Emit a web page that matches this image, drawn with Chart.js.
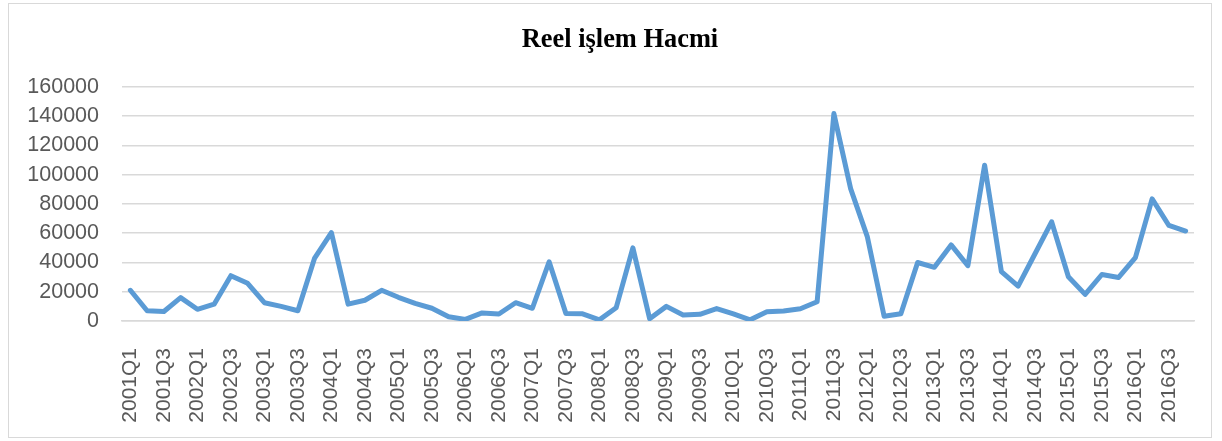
<!DOCTYPE html>
<html>
<head>
<meta charset="utf-8">
<script src="https://cdn.jsdelivr.net/npm/chart.js@4/dist/chart.umd.min.js"></script>
<style>
  html, body { margin: 0; padding: 0; background: #fff; }
  #wrap { position: relative; width: 1222px; height: 441px; }
  #frame { position: absolute; left: 8px; top: 3px; width: 1204px; height: 435px; border: 1px solid #d9d9d9; box-sizing: border-box; }
  canvas { position: absolute; left: 0; top: 0; }
</style>
</head>
<body>
<div id="wrap">
  <div id="frame"></div>
  <canvas id="c" width="1222" height="441"></canvas>
</div>
<script>
const chartTitle = "Reel işlem Hacmi";
const years = [2001,2002,2003,2004,2005,2006,2007,2008,2009,2010,2011,2012,2013,2014,2015,2016];
const quarters = ["Q1","Q2","Q3","Q4"];
const categories = [];
years.forEach(y => quarters.forEach(q => categories.push(y + q)));
const yTicks = [0,20000,40000,60000,80000,100000,120000,140000,160000];
const values = [
  21000, 7000, 6500, 16000, 8000, 11500, 31000, 25800,
  12500, 10000, 7000, 43000, 60500, 11500, 14200, 21000,
  16200, 12000, 8700, 2900, 1100, 5500, 4800, 12500,
  8700, 40500, 5200, 4900, 800, 9000, 50000, 1600,
  10000, 4100, 4600, 8500, 4800, 800, 6300, 6800,
  8400, 13200, 141800, 90500, 57500, 3300, 5000, 40000,
  36700, 52000, 37800, 106500, 33700, 23800, 45800, 67800,
  30300, 18200, 31800, 29800, 43300, 83500, 65300, 61500
];

const widenYLabelArea = {
  id: 'widenYLabelArea',
  afterLayout(chart) { chart.scales.y.left = 0; }
};

new Chart(document.getElementById('c'), {
  type: 'line',
  data: {
    labels: categories,
    datasets: [{
      data: values,
      borderColor: '#5B9BD5',
      borderWidth: 5,
      pointRadius: 0,
      tension: 0,
      fill: false,
      borderJoinStyle: 'round',
      borderCapStyle: 'round'
    }]
  },
  plugins: [widenYLabelArea],
  options: {
    responsive: false,
    animation: false,
    layout: { padding: { left: 46, right: 28, top: 0, bottom: 0 } },
    plugins: {
      legend: { display: false },
      tooltip: { enabled: false },
      title: {
        display: true,
        text: chartTitle,
        color: '#000',
        font: { family: 'Liberation Serif', size: 26.4, weight: 'bold' },
        padding: { top: 24.2, bottom: 31.1 }
      }
    },
    scales: {
      x: {
        offset: true,
        grid: { display: false, drawTicks: false },
        border: { display: true, color: '#d9d9d9', width: 1.5 },
        afterFit: s => { s.height = 120; s.paddingLeft = 0; s.paddingRight = 0; },
        ticks: {
          autoSkip: false,
          minRotation: 90,
          maxRotation: 90,
          padding: 27,
          color: '#595959',
          font: { family: 'Liberation Sans', size: 21 },
          callback: function(v, i) { return i % 2 === 0 ? this.getLabelForValue(v) : ''; }
        }
      },
      y: {
        min: 0,
        max: 160000,
        afterFit: s => { s.width = 76; s.paddingTop = 0; s.paddingBottom = 0; },
        afterBuildTicks: s => { s.ticks = yTicks.map(v => ({ value: v })); },
        grid: { color: '#d9d9d9', lineWidth: 1.5, drawTicks: false },
        border: { display: false },
        ticks: {
          padding: 23,
          color: '#595959',
          font: { family: 'Liberation Sans', size: 21.5 },
          callback: v => String(v)
        }
      }
    }
  }
});
</script>
</body>
</html>
